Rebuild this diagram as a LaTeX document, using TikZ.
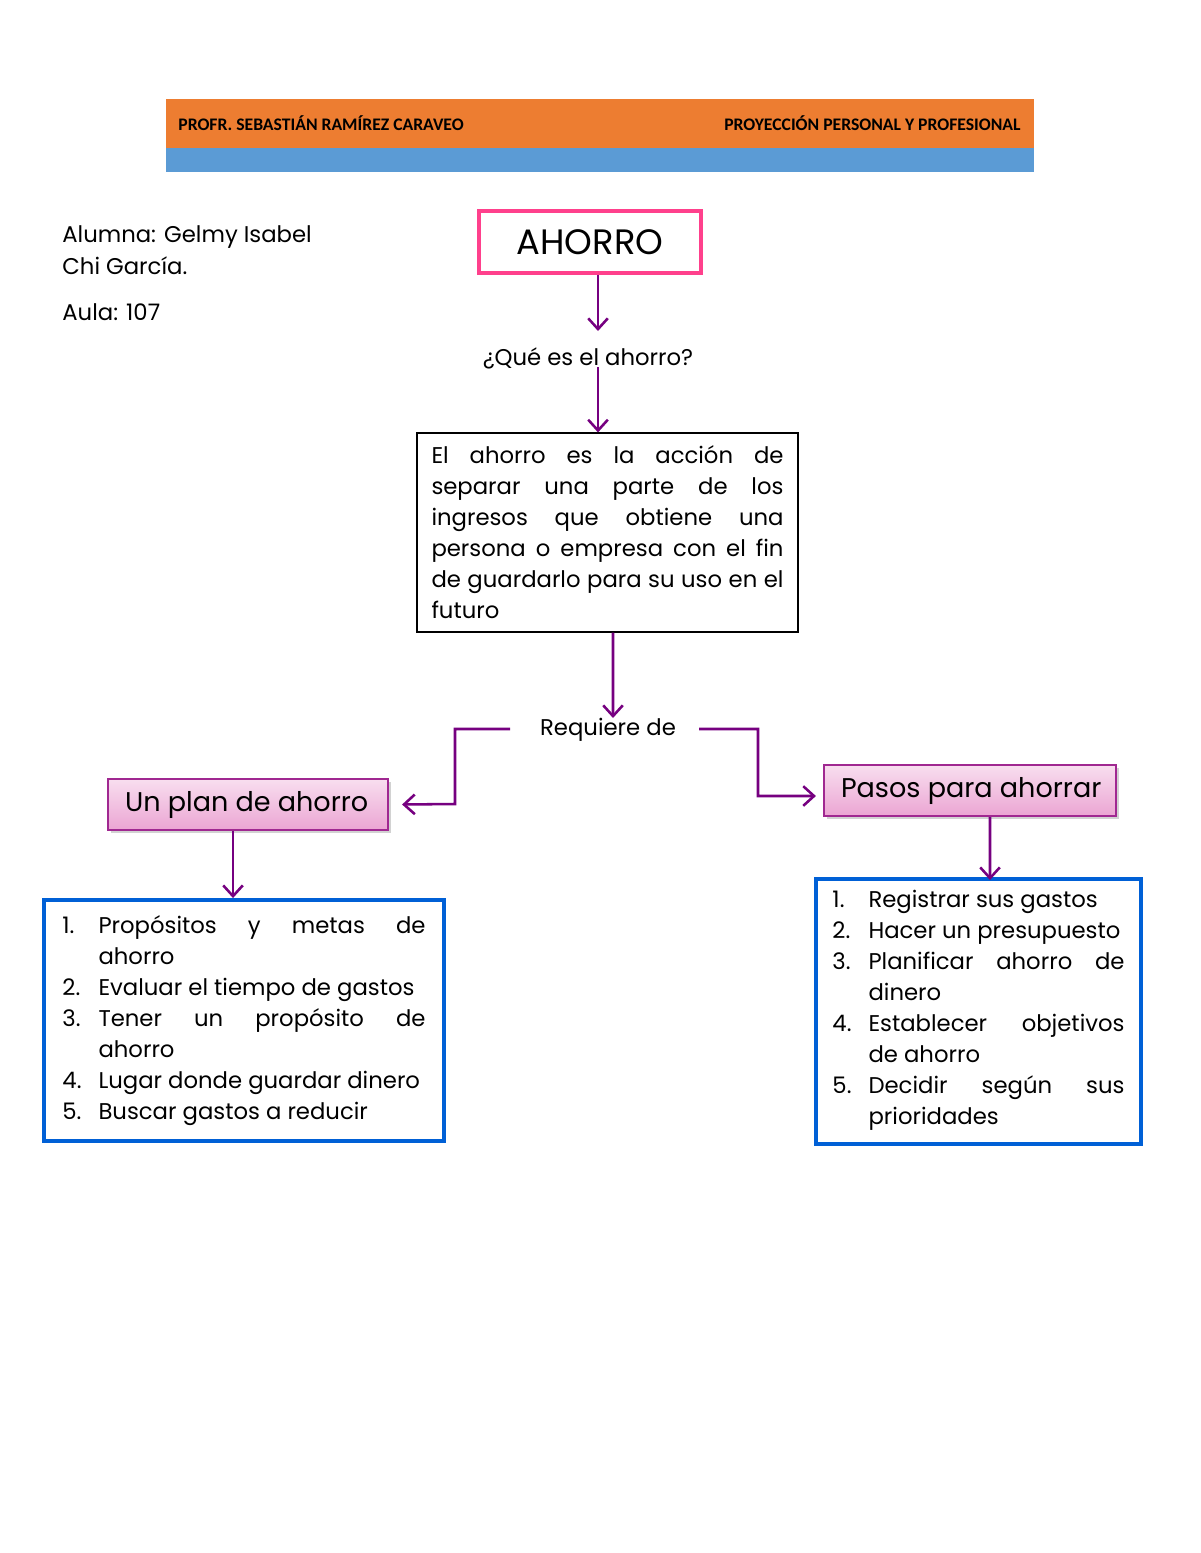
\documentclass[tikz,border=0pt]{standalone}
\usepackage{fontspec}
\setmainfont{Poppins}
\newfontfamily\hdrfont{Carlito}
\usetikzlibrary{arrows.meta,shadows}
\definecolor{hdrorange}{RGB}{237,125,49}
\definecolor{hdrblue}{RGB}{91,155,213}
\definecolor{ahpink}{RGB}{255,64,140}
\definecolor{arrpurple}{RGB}{118,0,128}
\definecolor{boxpurple}{RGB}{160,40,145}
\definecolor{gradtop}{RGB}{248,222,239}
\definecolor{gradbot}{RGB}{235,165,211}
\definecolor{lstblue}{RGB}{0,96,214}
\newcommand\pxu[1]{#1*0.51pt}
\newlength\defw \setlength\defw{179.52pt}
\newlength\lstaw \setlength\lstaw{166.77pt}
\newlength\lstbw \setlength\lstbw{130.56pt}
\newcommand\jl[2]{\makebox[#1][s]{#2}}
\newcommand\nm[1]{\makebox[18.4pt][l]{#1}}
\begin{document}
\begin{tikzpicture}[x=0.51pt,y=-0.51pt,
  body/.style={font=\fontsize{11.6}{15.8}\selectfont},
  hdr/.style={font=\hdrfont\bfseries\fontsize{9}{11}\selectfont, inner sep=0pt},
  arr/.style={draw=arrpurple, line width=1.3pt, -{Straight Barb[length=5.5pt,width=10pt,line width=1.3pt]}},
  ahbox/.style={draw=ahpink, line width=2pt, minimum width=\pxu{222}, minimum height=\pxu{62}, font=\fontsize{18}{22}\selectfont},
  defbox/.style={draw=black, line width=0.6pt, minimum width=\pxu{381}, minimum height=\pxu{199}, body, align=left, inner sep=0pt},
  pinkbox/.style={draw=boxpurple, line width=1.1pt, top color=gradtop, bottom color=gradbot, drop shadow={shadow xshift=1.5pt, shadow yshift=-1.5pt, opacity=0.35}, minimum height=\pxu{51}, font=\fontsize{13.8}{17}\selectfont, inner xsep=\pxu{17}, inner ysep=0pt},
  lstbox/.style={draw=lstblue, line width=2pt, body, align=left, inner sep=0pt}
]
\useasboundingbox (0,0) rectangle (1200,1553);
\fill[white] (0,0) rectangle (1200,1553);
% header
\fill[hdrorange] (166,99) rectangle (1034,148);
\fill[hdrblue] (166,148) rectangle (1034,172);
\node[hdr, anchor=base west] (prof) at (178,131) {PROFR. SEBASTIÁN RAMÍREZ CARAVEO};
\node[hdr, anchor=base east] (proy) at (1021,131) {PROYECCIÓN PERSONAL Y PROFESIONAL};
% student
\node[body, anchor=base west, inner sep=0pt] (alumna) at (62,243) {Alumna: Gelmy Isabel};
\node[body, anchor=base west, inner sep=0pt] (chi) at (62,274) {Chi García.};
\node[body, anchor=base west, inner sep=0pt] (aula) at (62,320) {Aula: 107};
% main
\node[ahbox] (ahorro) at (590,242) {AHORRO};
\node[body, inner sep=0pt] (q) at (588,358) {¿Qué es el ahorro?};
\coordinate (qtop) at (598,331);
\coordinate (qbot) at (598,367);
\draw[arr] ([xshift=\pxu{8}]ahorro.south) -- (qtop);
\node[defbox] (def) at (607.5,532.5) {%
\jl{\defw}{El ahorro es la acción de}\\
\jl{\defw}{separar una parte de los}\\
\jl{\defw}{ingresos que obtiene una}\\
\jl{\defw}{persona o empresa con el fin}\\
\jl{\defw}{de guardarlo para su uso en el}\\
\makebox[\defw][l]{futuro}};
\draw[arr] (qbot) -- ([xshift=\pxu{-9.5}]def.north);
\node[body, inner sep=0pt] (req) at (608,730) {Requiere de};
\coordinate (rl) at (510,729);
\coordinate (rr) at (699,729);
\draw[arr] ([xshift=\pxu{5.5}]def.south) -- ([xshift=\pxu{5}]req.north);
\node[pinkbox, minimum width=\pxu{280}] (plan) at (248,804.5) {\raisebox{-1.6pt}{\makebox[125.46pt][l]{Un plan de ahorro}}};
\node[pinkbox, minimum width=\pxu{292}] (pasos) at (970,790.5) {\raisebox{-1.6pt}{\makebox[131.58pt][l]{Pasos para ahorrar}}};
\draw[arr] (rl) -| (455,804) -- ([xshift=\pxu{13}]plan.east);
\draw[arr] (rr) -| (758,796) -- ([xshift=\pxu{-7}, yshift=\pxu{-5.5}]pasos.west);
\node[lstbox, minimum width=\pxu{400}, minimum height=\pxu{241}] (lst1) at (244,1020.5) {%
\nm{1.}\jl{\lstaw}{Propósitos y metas de}\\
\nm{}ahorro\\
\nm{2.}\makebox[\lstaw][l]{Evaluar el tiempo de gastos}\\
\nm{3.}\jl{\lstaw}{Tener un propósito de}\\
\nm{}ahorro\\
\nm{4.}\makebox[\lstaw][l]{Lugar donde guardar dinero}\\
\nm{5.}Buscar gastos a reducir};
\node[lstbox, minimum width=\pxu{325}, minimum height=\pxu{265}] (lst2) at (978.5,1011.5) {%
\nm{1.}\makebox[\lstbw][l]{Registrar sus gastos}\\
\nm{2.}Hacer un presupuesto\\
\nm{3.}\jl{\lstbw}{Planificar ahorro de}\\
\nm{}dinero\\
\nm{4.}\jl{\lstbw}{Establecer objetivos}\\
\nm{}de ahorro\\
\nm{5.}\jl{\lstbw}{Decidir según sus}\\
\nm{}prioridades\rule[-4pt]{0pt}{0pt}};
\draw[arr] ([xshift=\pxu{-15}]plan.south) -- ([xshift=\pxu{-11}]lst1.north);
\draw[arr] ([xshift=\pxu{20}]pasos.south) -- ([xshift=\pxu{11.5}, yshift=\pxu{-3}]lst2.north);
\end{tikzpicture}
\end{document}
